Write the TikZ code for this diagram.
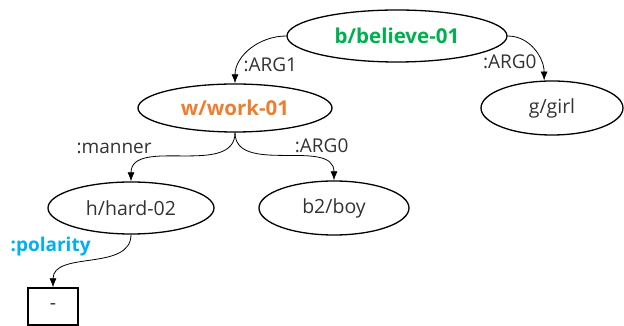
\documentclass[tikz,border=0pt]{standalone}
\usepackage{fontspec}
\setmainfont{Open Sans}
\usetikzlibrary{arrows.meta,shapes.geometric,positioning}
\definecolor{amrgreen}{HTML}{00B050}
\definecolor{amrorange}{HTML}{ED7D31}
\definecolor{amrblue}{HTML}{00B0F0}
\definecolor{amrtext}{HTML}{333333}
\tikzset{
     concept/.style = {ellipse, draw=black, line width=1.3pt, inner sep=0pt,
                       text=amrtext, font=\fontsize{19.5}{22}\selectfont},
     keyconcept/.style = {concept, font=\fontsize{20.5}{24}\selectfont\bfseries},
     constant/.style = {rectangle, draw=black, line width=1.3pt, inner sep=0pt,
                        minimum width=50pt, minimum height=37pt,
                        text=amrtext, font=\fontsize{19.5}{22}\selectfont},
     amredge/.style = {black, line width=0.8pt, -{Latex[length=9pt,width=7pt]}},
     role/.style = {text=amrtext, inner sep=1pt, font=\fontsize{19}{22}\selectfont},
    }

\begin{document}
\begin{tikzpicture}[on grid, x=1pt, y=1pt]
        \useasboundingbox (0,0) rectangle (624,326);

        \node [keyconcept, text=amrgreen, minimum width=220pt, minimum height=52pt]
              (b) at (397,290) {b/believe-01};
        \node [keyconcept, text=amrorange, minimum width=194pt, minimum height=48pt]
              (w) [below left=72pt and 162pt of b] {w/work-01};
        \node [concept, minimum width=142pt, minimum height=54pt]
              (g) [below right=72pt and 155pt of b] {g/girl};
        \node [concept, minimum width=166pt, minimum height=52pt]
              (h) [below left=100pt and 104pt of w] {h/hard-02};
        \node [concept, minimum width=150pt, minimum height=54pt]
              (b2) [below right=100pt and 99pt of w] {b2/boy};
        \node [constant] (neg) [below left=98.5pt and 78pt of h] {-};

        \path[amredge]
        (b.west) edge [out=180, in=90] node [role, pos=.75, anchor=west, xshift=3pt] (arg1) {:ARG1} (w.north)
        (b.east) edge [out=0, in=90] node [role, pos=.72, anchor=east, xshift=-3pt] (arg0g) {:ARG0} (g.106)
        (w.south) edge [out=-90, in=90] node [role, pos=.5, anchor=south east, xshift=-30pt, yshift=2pt] (manner) {:manner} (h.north)
        (w.south) edge [out=-90, in=90] node [role, pos=.5, anchor=south west, xshift=9pt, yshift=2pt] (arg0b) {:ARG0} (b2.north)
        (h.south) edge [out=-90, in=90] node [role, pos=.5, anchor=south east, yshift=4pt, text=amrblue, font=\fontsize{19}{22}\selectfont\bfseries] (polarity) {:polarity} (neg.north);
    \end{tikzpicture}
\end{document}
